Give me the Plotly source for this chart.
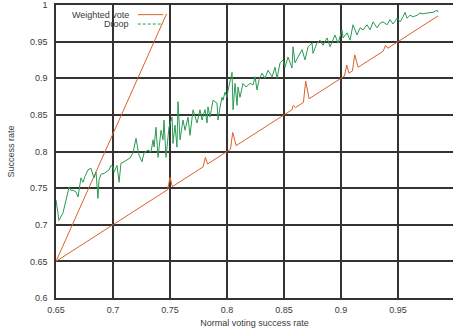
import plotly.graph_objects as go

# Weighted vote: success rate against normal voting success rate
weighted_x = [0.747, 0.650, 0.700, 0.748, 0.750, 0.752, 0.779, 0.781, 0.783,
              0.803, 0.805, 0.808, 0.857, 0.858, 0.860, 0.867, 0.869, 0.872,
              0.903, 0.905, 0.907, 0.910, 0.912, 0.915, 0.937, 0.939, 0.941, 0.985]
weighted_y = [0.988, 0.650, 0.700, 0.748, 0.765, 0.752, 0.779, 0.792, 0.783,
              0.803, 0.826, 0.808, 0.857, 0.863, 0.860, 0.867, 0.896, 0.872,
              0.903, 0.918, 0.907, 0.910, 0.932, 0.915, 0.937, 0.945, 0.941, 0.985]

# Droop quota: success rate against normal voting success rate
droop_x = [0.6500, 0.6526, 0.6561, 0.6588, 0.6614, 0.6632, 0.6649, 0.6675, 0.6693, 0.6719,
           0.6737, 0.6754, 0.6781, 0.6807, 0.6825, 0.6833, 0.6851, 0.6868, 0.6877, 0.6895,
           0.6921, 0.6939, 0.6965, 0.6982, 0.7000, 0.7009, 0.7035, 0.7053, 0.7070, 0.7096,
           0.7123, 0.7149, 0.7175, 0.7202, 0.7219, 0.7228, 0.7254, 0.7272, 0.7307, 0.7333,
           0.7351, 0.7360, 0.7377, 0.7395, 0.7421, 0.7439, 0.7447, 0.7465, 0.7491, 0.7518,
           0.7526, 0.7544, 0.7561, 0.7570, 0.7588, 0.7614, 0.7632, 0.7658, 0.7675, 0.7702,
           0.7737, 0.7763, 0.7781, 0.7807, 0.7825, 0.7833, 0.7851, 0.7877, 0.7912, 0.7921,
           0.7939, 0.7956, 0.7965, 0.7982, 0.8000, 0.8009, 0.8044, 0.8053, 0.8070, 0.8088,
           0.8096, 0.8114, 0.8140, 0.8167, 0.8202, 0.8228, 0.8246, 0.8263, 0.8281, 0.8307,
           0.8333, 0.8360, 0.8395, 0.8421, 0.8439, 0.8465, 0.8491, 0.8509, 0.8535, 0.8570,
           0.8579, 0.8596, 0.8623, 0.8658, 0.8684, 0.8711, 0.8746, 0.8754, 0.8789, 0.8816,
           0.8842, 0.8877, 0.8904, 0.8930, 0.8947, 0.8974, 0.9009, 0.9018, 0.9053, 0.9079,
           0.9105, 0.9140, 0.9167, 0.9193, 0.9228, 0.9254, 0.9281, 0.9316, 0.9342, 0.9368,
           0.9404, 0.9430, 0.9456, 0.9491, 0.9518, 0.9544, 0.9561, 0.9579, 0.9605, 0.9632,
           0.9667, 0.9693, 0.9719, 0.9754, 0.9781, 0.9807, 0.9842, 0.9851]
droop_y = [0.734, 0.706, 0.716, 0.734, 0.751, 0.747, 0.747, 0.745, 0.738, 0.764,
           0.758, 0.766, 0.775, 0.777, 0.768, 0.764, 0.772, 0.736, 0.761, 0.769,
           0.770, 0.772, 0.775, 0.781, 0.779, 0.772, 0.781, 0.758, 0.784, 0.786,
           0.788, 0.791, 0.798, 0.818, 0.802, 0.795, 0.786, 0.798, 0.802, 0.799,
           0.816, 0.806, 0.833, 0.792, 0.829, 0.816, 0.843, 0.792, 0.833, 0.847,
           0.811, 0.836, 0.806, 0.868, 0.816, 0.843, 0.829, 0.847, 0.822, 0.857,
           0.839, 0.857, 0.843, 0.857, 0.839, 0.861, 0.847, 0.870, 0.866, 0.843,
           0.861, 0.874, 0.870, 0.881, 0.874, 0.884, 0.908, 0.857, 0.893, 0.863,
           0.888, 0.874, 0.893, 0.888, 0.893, 0.891, 0.902, 0.884, 0.898, 0.907,
           0.900, 0.911, 0.902, 0.915, 0.900, 0.921, 0.925, 0.915, 0.929, 0.914,
           0.943, 0.921, 0.929, 0.939, 0.925, 0.943, 0.948, 0.934, 0.948, 0.952,
           0.945, 0.955, 0.943, 0.952, 0.959, 0.948, 0.966, 0.955, 0.962, 0.952,
           0.973, 0.959, 0.969, 0.966, 0.973, 0.966, 0.977, 0.969, 0.975, 0.977,
           0.973, 0.980, 0.974, 0.982, 0.977, 0.984, 0.990, 0.982, 0.986, 0.984,
           0.986, 0.989, 0.988, 0.989, 0.989, 0.990, 0.993, 0.990]

series_names = ["Weighted vote", "Droop"]
x_ticks = [0.65, 0.7, 0.75, 0.8, 0.85, 0.9, 0.95]
x_tick_text = ["0.65", "0.7", "0.75", "0.8", "0.85", "0.9", "0.95"]
y_ticks = [0.6, 0.65, 0.7, 0.75, 0.8, 0.85, 0.9, 0.95, 1.0]
y_tick_text = ["0.6", "0.65", "0.7", "0.75", "0.8", "0.85", "0.9", "0.95", "1"]

ORANGE = "#d8622c"
GREEN = "#2a9a52"
GRID = "#333333"
TEXT = "#3a3a3a"
FONT = "Liberation Sans, Arial, sans-serif"

fig = go.Figure()
fig.add_trace(go.Scatter(x=weighted_x, y=weighted_y, mode="lines", name=series_names[0],
                         line=dict(color=ORANGE, width=1), showlegend=False))
fig.add_trace(go.Scatter(x=droop_x, y=droop_y, mode="lines", name=series_names[1],
                         line=dict(color=GREEN, width=1), showlegend=False))

# key in the upper left: labels right-aligned, line samples to their right
legend_rows = [(0.967, ORANGE, "solid"), (0.935, GREEN, "3px,2px")]
for name, (yy, col, dash) in zip(series_names, legend_rows):
    fig.add_annotation(x=0.189, y=yy, xref="paper", yref="paper", text=name,
                       showarrow=False, xanchor="right", yanchor="middle",
                       font=dict(family=FONT, size=9, color=TEXT))
    fig.add_shape(type="line", xref="paper", yref="paper", x0=0.206, x1=0.27,
                  y0=yy, y1=yy, line=dict(color=col, width=1, dash=dash))

axis_common = dict(showgrid=True, gridcolor=GRID, gridwidth=1.5, zeroline=False,
                   showline=True, linecolor=GRID, linewidth=1.5, ticks="",
                   tickfont=dict(family=FONT, size=9, color=TEXT))
fig.update_xaxes(range=[0.65, 0.9982], tickvals=x_ticks, ticktext=x_tick_text,
                 mirror=True, ticklabelstandoff=2,
                 title=dict(text="Normal voting success rate", standoff=6,
                            font=dict(family=FONT, size=9, color=TEXT)),
                 **axis_common)
fig.update_yaxes(range=[0.6, 1.0], tickvals=y_ticks, ticktext=y_tick_text,
                 mirror=False, ticklabelstandoff=5,
                 title=dict(text="Success rate", standoff=14,
                            font=dict(family=FONT, size=9, color=TEXT)),
                 **axis_common)

fig.update_layout(width=453, height=331, margin=dict(l=56, r=0, t=5, b=33),
                  paper_bgcolor="white", plot_bgcolor="white")

fig.write_html("out.html", config={"displayModeBar": False})
